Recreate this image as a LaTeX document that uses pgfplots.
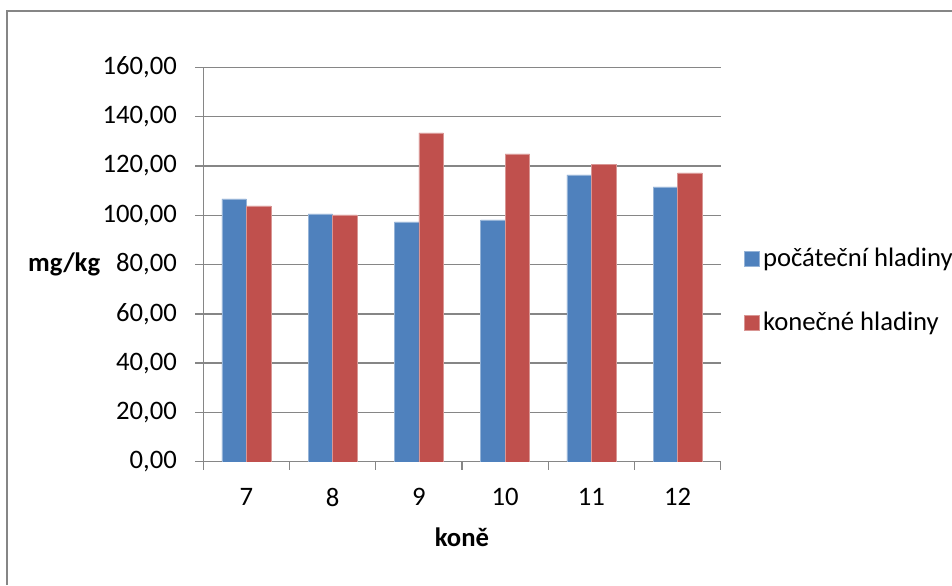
\documentclass[border=0pt]{standalone}
\usepackage{pgfplots}
\pgfplotsset{compat=1.18}
\usepackage{fontspec}
\setmainfont{Carlito}

\definecolor{barblue}{HTML}{4F81BD}
\definecolor{barred}{HTML}{C0504D}
\definecolor{edgeblue}{HTML}{95B3D7}
\definecolor{edgered}{HTML}{D99694}
\definecolor{axisgray}{HTML}{868686}

% initial and final levels for horses 7--12 (mg/kg)
\pgfplotstableread{
x init final
0 106.6 103.8
1 100.5 100.1
2  97.3 133.4
3  98.1 124.9
4 116.4 120.5
5 111.5 117.2
}\levels

\begin{document}
\fontsize{20}{24}\selectfont
\begin{tikzpicture}
  % page area and the chart frame (its right and bottom sides lie off the page)
  \useasboundingbox (0,0) rectangle (714pt,438.75pt);
  \draw[axisgray, line width=1pt] (5.25pt,0pt) -- (5.25pt,430.5pt) -- (714pt,430.5pt);

  \begin{axis}[
    at={(152.5pt,92.4pt)}, anchor=south west,
    scale only axis,
    width=388pt, height=295.9pt,
    ybar=0pt, bar width=18.4pt,
    xmin=-0.5, xmax=5.5,
    ymin=0, ymax=160,
    ytick={0,20,...,160},
    xtick={-0.5,0.5,...,5.5},
    xticklabels={7,8,9,10,11,12},
    x tick label as interval,
    axis x line*=bottom, axis y line*=left,
    axis line style={axisgray, line width=1pt, -},
    tick align=outside,
    major tick length=6pt,
    x tick style={axisgray, line width=1pt},
    y tick style={axisgray, line width=1pt},
    ymajorgrids,
    grid style={axisgray, line width=1pt},
    /pgf/number format/assume math mode=true,
    /pgf/number format/fixed,
    /pgf/number format/fixed zerofill,
    /pgf/number format/precision=2,
    /pgf/number format/use comma,
    /pgf/number format/1000 sep={},
    yticklabel style={anchor=east, inner sep=0pt, xshift=-13.7pt},
    xticklabel style={anchor=center, inner sep=0pt, yshift=-20.4pt},
    xlabel={\bfseries koně},
    xlabel style={at={(axis description cs:0.5,-0.19)}, anchor=center},
    ylabel={\bfseries mg/kg},
    ylabel style={rotate=-90, at={(axis description cs:-0.269,0.5)}, anchor=center},
    legend image code/.code={\fill[#1] (0pt,-5.6pt) rectangle (11.25pt,5.6pt);},
    legend style={draw=none, fill=none, at={(axis description cs:1.045,0.433)}, anchor=west,
      inner xsep=0pt, row sep=27pt, nodes={inner xsep=2.5pt}, font=\fontsize{20}{24}\selectfont},
    legend cell align=left,
  ]
    \addplot[fill=barblue, draw=edgeblue, line width=0.4pt] table[x=x, y=init] {\levels};
    \addplot[fill=barred, draw=edgered, line width=0.4pt] table[x=x, y=final] {\levels};
    \legend{počáteční hladiny, konečné hladiny}
  \end{axis}
\end{tikzpicture}
\end{document}
